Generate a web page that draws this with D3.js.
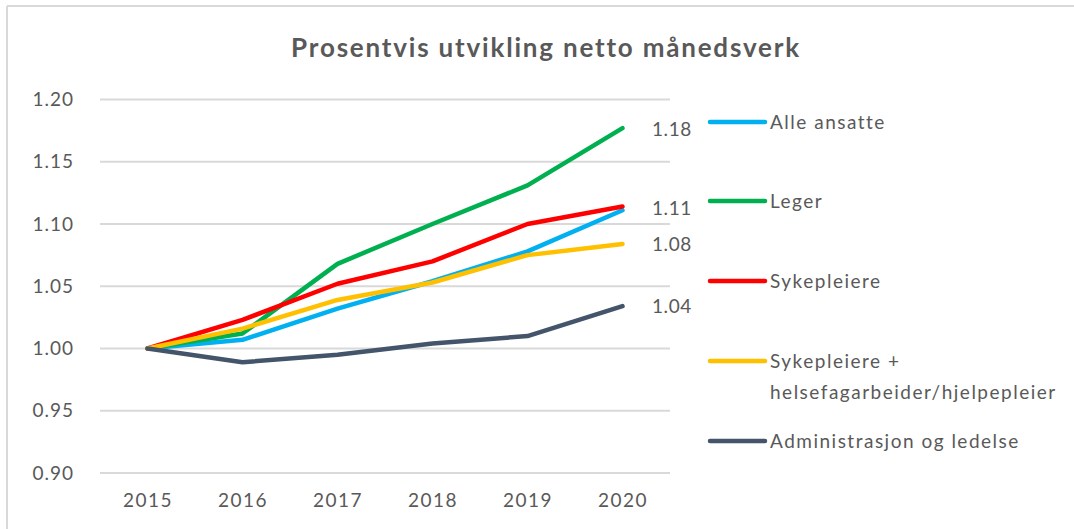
<!DOCTYPE html>
<html>
<head>
<meta charset="utf-8">
<script src="https://cdn.jsdelivr.net/npm/d3@7"></script>
<style>
  body { margin: 0; background: #fff; }
  text { font-family: Lato, "Open Sans", sans-serif; fill: #595959; }
</style>
</head>
<body>
<svg id="chart" width="1074" height="529"></svg>
<script>
"use strict";

// categories and series values
const years = ["2015", "2016", "2017", "2018", "2019", "2020"];
const seriesNames = ["Alle ansatte", "Leger", "Sykepleiere", "Sykepleiere + helsefagarbeider/hjelpepleier", "Administrasjon og ledelse"];
const alleAnsatte = [1.000, 1.007, 1.032, 1.054, 1.078, 1.111];
const leger = [1.000, 1.012, 1.068, 1.100, 1.131, 1.177];
const sykepleiere = [1.000, 1.023, 1.052, 1.070, 1.100, 1.114];
const sykHelse = [1.000, 1.016, 1.039, 1.053, 1.075, 1.084];
const administrasjon = [1.000, 0.989, 0.995, 1.004, 1.010, 1.034];
const yTicks = [0.90, 0.95, 1.00, 1.05, 1.10, 1.15, 1.20];
const endLabels = ["1.18", "1.11", "1.08", "1.04"];

const colors = ["#00B0F0", "#00B050", "#FF0000", "#FFC000", "#44546A"];
const allSeries = [alleAnsatte, leger, sykepleiere, sykHelse, administrasjon];

const svg = d3.select("#chart");

// frame of the chart (only top and left edges are visible)
svg.append("line").attr("x1", 7).attr("x2", 1074).attr("y1", 6).attr("y2", 6)
    .attr("stroke", "#d9d9d9").attr("stroke-width", 2);
svg.append("line").attr("x1", 7).attr("x2", 7).attr("y1", 6).attr("y2", 529)
    .attr("stroke", "#d9d9d9").attr("stroke-width", 2);

// title
svg.append("text")
    .attr("x", 546).attr("y", 57)
    .attr("text-anchor", "middle")
    .style("font-size", "26px")
    .style("font-weight", "bold")
    .style("letter-spacing", "1.8px")
    .text("Prosentvis utvikling netto månedsverk");

const x = d3.scalePoint().domain(years).range([100, 670]).padding(0.5);
const y = d3.scaleLinear().domain([0.90, 1.20]).range([473, 99.5]);

// gridlines
svg.append("g")
    .selectAll("line")
    .data(yTicks)
    .join("line")
    .attr("x1", 100).attr("x2", 670)
    .attr("y1", d => y(d)).attr("y2", d => y(d))
    .attr("stroke", "#d9d9d9").attr("stroke-width", 2);

// y axis labels
const yAxis = svg.append("g")
    .attr("transform", "translate(74,0)")
    .call(d3.axisLeft(y).tickValues(yTicks).tickFormat(d3.format(".2f")).tickSize(0).tickPadding(0));
yAxis.select(".domain").remove();
yAxis.selectAll("text").style("font-size", "19px").style("letter-spacing", "1px").attr("fill", "#595959");

// x axis labels
const xAxis = svg.append("g")
    .attr("transform", "translate(0,493)")
    .call(d3.axisBottom(x).tickSize(0).tickPadding(0));
xAxis.select(".domain").remove();
xAxis.selectAll("text").style("font-size", "19px").style("letter-spacing", "1.5px").attr("fill", "#595959");

// lines
const line = d3.line()
    .x((d, i) => x(years[i]))
    .y(d => y(d));

svg.append("g")
    .selectAll("path")
    .data(allSeries)
    .join("path")
    .attr("d", d => line(d))
    .attr("fill", "none")
    .attr("stroke", (d, i) => colors[i])
    .attr("stroke-width", 4.5)
    .attr("stroke-linejoin", "round")
    .attr("stroke-linecap", "round");

// end labels
const labelSeries = [leger, alleAnsatte, sykHelse, administrasjon];
const labelShift = [1, -2, 0, 0];
svg.append("g")
    .selectAll("text")
    .data(endLabels)
    .join("text")
    .attr("x", 652)
    .attr("y", (d, i) => y(labelSeries[i][5]) + labelShift[i])
    .attr("dy", "0.35em")
    .style("font-size", "19px")
    .style("letter-spacing", "0.6px")
    .text(d => d);

// legend
const legendY = [[122], [201], [281], [361, 392], [441]];
const legendText = [["Alle ansatte"], ["Leger"], ["Sykepleiere"], ["Sykepleiere +", "helsefagarbeider/hjelpepleier"], ["Administrasjon og ledelse"]];
const legend = svg.append("g").selectAll("g")
    .data(seriesNames)
    .join("g");
legend.append("line")
    .attr("x1", 710).attr("x2", 765)
    .attr("y1", (d, i) => legendY[i][0]).attr("y2", (d, i) => legendY[i][0])
    .attr("stroke", (d, i) => colors[i])
    .attr("stroke-width", 4.5)
    .attr("stroke-linecap", "round");
legend.each(function (d, i) {
    const g = d3.select(this);
    legendText[i].forEach((t, j) => {
        g.append("text")
            .attr("x", 770)
            .attr("y", legendY[i][j])
            .attr("dy", "0.35em")
            .style("font-size", "19px")
            .style("letter-spacing", "1.5px")
            .text(t);
    });
});
</script>
</body>
</html>
